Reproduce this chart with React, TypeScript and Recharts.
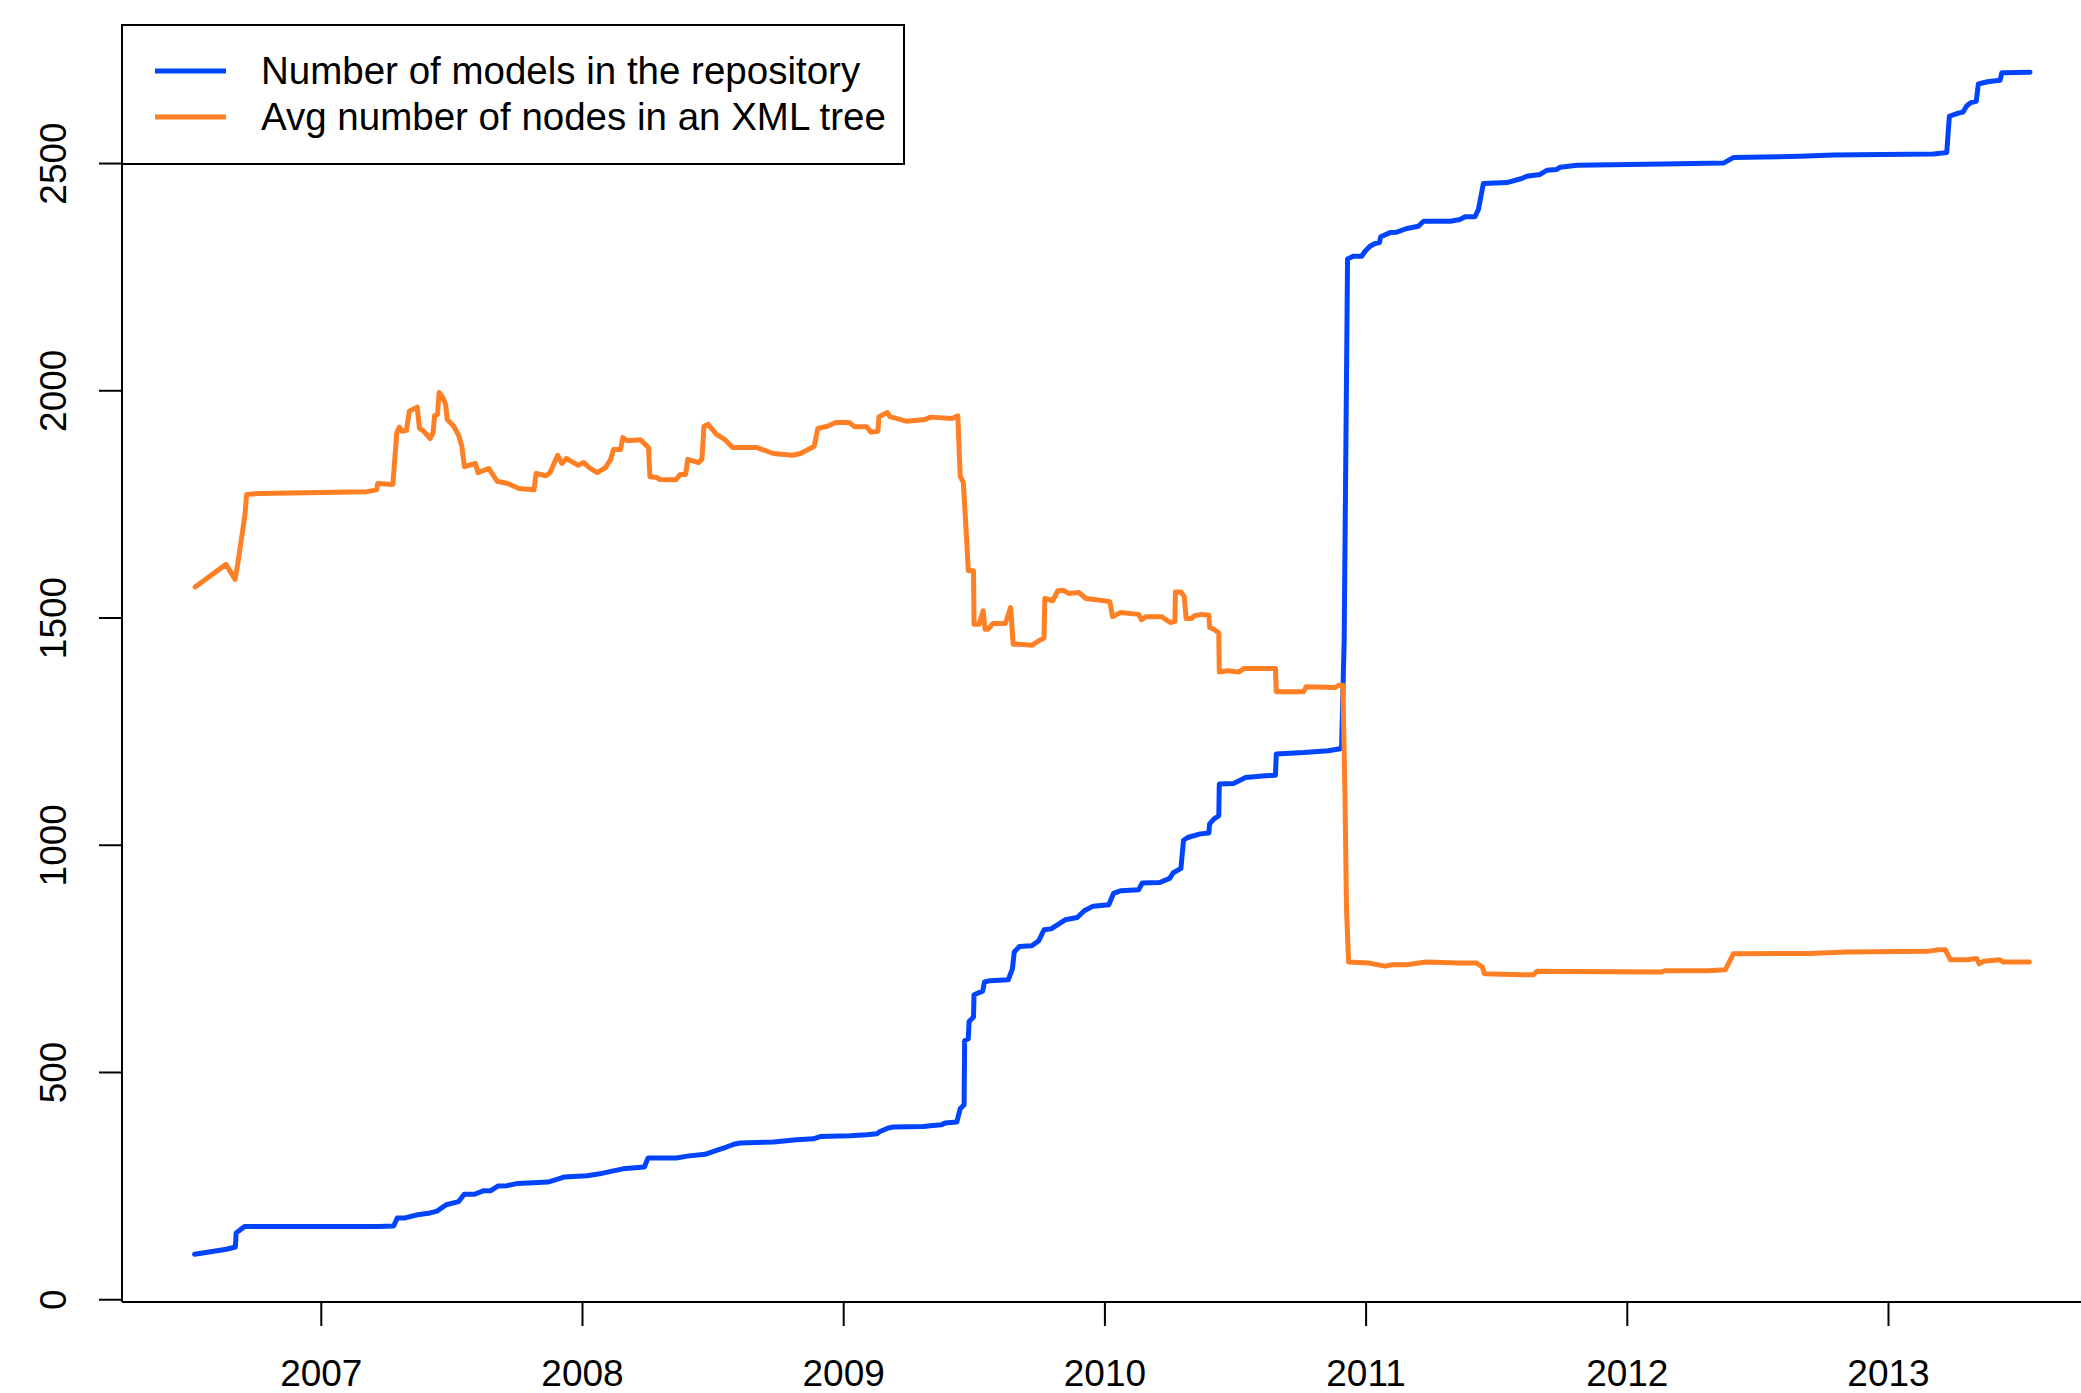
import React from 'react';
import { LineChart, Line, XAxis, YAxis, Legend } from 'recharts';

// Repository size over time (decimal years)
const modelYears = [
  2006.515, 2006.637, 2006.671, 2006.674, 2006.706, 2007.218, 2007.277, 2007.291, 2007.321, 2007.369,
  2007.417, 2007.443, 2007.478, 2007.526, 2007.547, 2007.587, 2007.622, 2007.649, 2007.676, 2007.711,
  2007.752, 2007.868, 2007.902, 2007.929, 2008.018, 2008.066, 2008.113, 2008.155, 2008.237, 2008.251,
  2008.36, 2008.401, 2008.469, 2008.51, 2008.551, 2008.579, 2008.604, 2008.731, 2008.82, 2008.884,
  2008.91, 2009.025, 2009.088, 2009.127, 2009.139, 2009.171, 2009.19, 2009.305, 2009.331, 2009.375,
  2009.388, 2009.433, 2009.446, 2009.461, 2009.463, 2009.477, 2009.48, 2009.497, 2009.499, 2009.532,
  2009.539, 2009.56, 2009.63, 2009.646, 2009.653, 2009.673, 2009.72, 2009.747, 2009.767, 2009.794,
  2009.848, 2009.894, 2009.921, 2009.955, 2010.015, 2010.033, 2010.062, 2010.129, 2010.143, 2010.21,
  2010.248, 2010.261, 2010.291, 2010.301, 2010.317, 2010.365, 2010.398, 2010.401, 2010.418, 2010.436,
  2010.438, 2010.492, 2010.539, 2010.613, 2010.653, 2010.656, 2010.761, 2010.855, 2010.906, 2010.916,
  2010.929, 2010.951, 2010.983, 2010.996, 2011.015, 2011.034, 2011.051, 2011.056, 2011.092, 2011.117,
  2011.156, 2011.2, 2011.22, 2011.322, 2011.36, 2011.379, 2011.417, 2011.43, 2011.449, 2011.539,
  2011.596, 2011.615, 2011.666, 2011.692, 2011.73, 2011.743, 2011.807, 2012.138, 2012.368, 2012.406,
  2012.662, 2012.789, 2013.172, 2013.223, 2013.233, 2013.262, 2013.285, 2013.3, 2013.315, 2013.336,
  2013.344, 2013.379, 2013.427, 2013.434, 2013.542,
];
const modelCounts = [
  100, 111, 116, 147, 161, 161, 162, 180, 180, 187,
  191, 195, 209, 216, 232, 232, 240, 240, 250, 251,
  256, 259, 265, 270, 273, 277, 283, 288, 292, 312,
  312, 316, 320, 328, 336, 342, 345, 347, 352, 354,
  359, 361, 363, 365, 370, 378, 380, 381, 383, 385,
  389, 391, 420, 429, 570, 574, 612, 622, 671, 679,
  699, 702, 704, 728, 765, 777, 779, 790, 814, 816,
  836, 841, 856, 866, 869, 894, 900, 902, 917, 918,
  927, 939, 949, 1011, 1017, 1025, 1027, 1047, 1058, 1065,
  1135, 1136, 1149, 1153, 1154, 1201, 1204, 1208, 1213, 1450,
  2290, 2296, 2296, 2307, 2318, 2324, 2326, 2339, 2348, 2349,
  2357, 2362, 2373, 2373, 2377, 2383, 2383, 2399, 2456, 2458,
  2467, 2472, 2476, 2485, 2487, 2492, 2496, 2499, 2501, 2513,
  2516, 2519, 2521, 2524, 2604, 2610, 2613, 2627, 2634, 2637,
  2675, 2680, 2683, 2700, 2701,
];

// Average XML tree size over time
const nodeYears = [
  2006.517, 2006.635, 2006.67, 2006.681, 2006.708, 2006.714, 2006.76, 2007.175, 2007.212, 2007.216,
  2007.274, 2007.289, 2007.299, 2007.309, 2007.326, 2007.337, 2007.367, 2007.376, 2007.392, 2007.417,
  2007.428, 2007.434, 2007.445, 2007.451, 2007.465, 2007.476, 2007.482, 2007.507, 2007.527, 2007.538,
  2007.548, 2007.59, 2007.6, 2007.641, 2007.673, 2007.714, 2007.756, 2007.814, 2007.822, 2007.86,
  2007.876, 2007.905, 2007.921, 2007.938, 2007.984, 2008.005, 2008.03, 2008.056, 2008.088, 2008.108,
  2008.119, 2008.146, 2008.154, 2008.171, 2008.222, 2008.253, 2008.258, 2008.285, 2008.295, 2008.357,
  2008.374, 2008.395, 2008.403, 2008.444, 2008.457, 2008.465, 2008.481, 2008.513, 2008.544, 2008.575,
  2008.668, 2008.731, 2008.803, 2008.835, 2008.887, 2008.901, 2008.938, 2008.969, 2009.021, 2009.042,
  2009.088, 2009.104, 2009.131, 2009.135, 2009.167, 2009.177, 2009.239, 2009.312, 2009.333, 2009.416,
  2009.437, 2009.446, 2009.458, 2009.471, 2009.477, 2009.497, 2009.499, 2009.518, 2009.534, 2009.541,
  2009.552, 2009.572, 2009.619, 2009.639, 2009.649, 2009.679, 2009.72, 2009.747, 2009.767, 2009.77,
  2009.8, 2009.82, 2009.841, 2009.861, 2009.901, 2009.928, 2009.968, 2010.019, 2010.029, 2010.06,
  2010.129, 2010.14, 2010.156, 2010.217, 2010.25, 2010.268, 2010.27, 2010.291, 2010.304, 2010.311,
  2010.331, 2010.344, 2010.371, 2010.398, 2010.401, 2010.418, 2010.436, 2010.438, 2010.472, 2010.512,
  2010.533, 2010.653, 2010.656, 2010.761, 2010.771, 2010.882, 2010.895, 2010.911, 2010.919, 2010.925,
  2010.933, 2011.009, 2011.073, 2011.101, 2011.155, 2011.229, 2011.357, 2011.422, 2011.445, 2011.453,
  2011.596, 2011.641, 2011.654, 2011.779, 2012.128, 2012.146, 2012.311, 2012.375, 2012.406, 2012.696,
  2012.842, 2013.154, 2013.191, 2013.218, 2013.237, 2013.301, 2013.338, 2013.347, 2013.365, 2013.426,
  2013.438, 2013.539,
];
const nodeCounts = [
  1568, 1618, 1585, 1622, 1728, 1772, 1774, 1778, 1782, 1796,
  1794, 1908, 1920, 1911, 1913, 1955, 1964, 1917, 1911, 1895,
  1908, 1946, 1948, 1996, 1985, 1970, 1937, 1922, 1900, 1878,
  1833, 1840, 1820, 1829, 1801, 1796, 1785, 1782, 1818, 1813,
  1820, 1858, 1840, 1851, 1836, 1842, 1829, 1820, 1831, 1849,
  1871, 1871, 1897, 1890, 1892, 1875, 1811, 1809, 1805, 1804,
  1816, 1816, 1849, 1842, 1849, 1922, 1926, 1904, 1893, 1875,
  1875, 1862, 1858, 1862, 1878, 1917, 1922, 1930, 1930, 1921,
  1921, 1909, 1911, 1943, 1952, 1943, 1933, 1937, 1942, 1939,
  1945, 1812, 1798, 1670, 1604, 1604, 1486, 1486, 1516, 1475,
  1475, 1488, 1488, 1523, 1442, 1442, 1440, 1450, 1456, 1543,
  1538, 1560, 1561, 1554, 1556, 1543, 1540, 1536, 1503, 1512,
  1508, 1496, 1503, 1503, 1490, 1492, 1557, 1557, 1547, 1499,
  1499, 1505, 1508, 1506, 1479, 1475, 1467, 1381, 1384, 1381,
  1389, 1389, 1338, 1338, 1349, 1347, 1352, 1352, 1116, 860,
  743, 741, 734, 737, 737, 743, 741, 741, 732, 717,
  715, 715, 723, 722, 721, 724, 724, 726, 761, 762,
  765, 767, 770, 770, 748, 748, 751, 739, 745, 748,
  743, 743,
];

const seriesNames = ['Number of models in the repository', 'Avg number of nodes in an XML tree'];
const yearTicks = [2007, 2008, 2009, 2010, 2011, 2012, 2013];
const valueTicks = [0, 500, 1000, 1500, 2000, 2500];

const modelData = modelYears.map((t, i) => ({ t, v: modelCounts[i] }));
const nodeData = nodeYears.map((t, i) => ({ t, v: nodeCounts[i] }));

const FONT = '"Liberation Sans", Arial, Helvetica, sans-serif';
const BLUE = '#0044ff';
const ORANGE = '#ff7f24';

const XTick = ({ x, y, payload }: any) => (
  <text x={x} y={y + 58} textAnchor="middle" fontFamily={FONT} fontSize={37} fill="#000">
    {payload.value}
  </text>
);

const YTick = ({ x, y, payload }: any) => (
  <text
    x={x - 31}
    y={y}
    transform={`rotate(-90, ${x - 31}, ${y})`}
    textAnchor="middle"
    fontFamily={FONT}
    fontSize={37}
    fill="#000"
  >
    {payload.value}
  </text>
);

// legend keeps the series in plotting order, inside a framed box
const LegendBox = ({ payload }: any) => {
  const items = [...(payload || [])].sort(
    (a: any, b: any) => seriesNames.indexOf(a.value) - seriesNames.indexOf(b.value),
  );
  return (
    <svg width={784} height={141} style={{ display: 'block' }}>
      <rect x={1} y={1} width={782} height={139} fill="#fff" stroke="#000" strokeWidth={2} />
      {items.map((p: any, i: number) => (
        <g key={p.value}>
          <line x1={34} x2={105} y1={47 + i * 46} y2={47 + i * 46} stroke={p.color} strokeWidth={5} />
          <text x={140} y={60 + i * 46} fontFamily={FONT} fontSize={38.5} fill="#000">
            {p.value}
          </text>
        </g>
      ))}
    </svg>
  );
};

export default function App() {
  return (
    <div style={{ position: 'absolute', left: 0, top: 0, background: '#fff' }}>
      <LineChart width={2081} height={1393} margin={{ top: 24, right: 0, bottom: 0, left: 0 }}>
        <XAxis
          dataKey="t"
          type="number"
          domain={[2006.237, 2013.737]}
          allowDataOverflow
          ticks={yearTicks}
          height={91}
          tickSize={24}
          tick={XTick}
          axisLine={{ stroke: '#000', strokeWidth: 2 }}
          tickLine={{ stroke: '#000', strokeWidth: 2 }}
        />
        <XAxis
          xAxisId="frame"
          dataKey="t"
          type="number"
          orientation="top"
          domain={[2006.237, 2013.737]}
          allowDataOverflow
          height={0}
          tick={false}
          tickLine={false}
          axisLine={{ stroke: '#000', strokeWidth: 2 }}
        />
        <YAxis
          dataKey="v"
          type="number"
          domain={[-5, 2807]}
          allowDataOverflow
          ticks={valueTicks}
          width={122}
          tickSize={23}
          tick={YTick}
          axisLine={{ stroke: '#000', strokeWidth: 2 }}
          tickLine={{ stroke: '#000', strokeWidth: 2 }}
        />
        <Line
          data={modelData}
          dataKey="v"
          name={seriesNames[0]}
          type="linear"
          stroke={BLUE}
          strokeWidth={5}
          strokeLinejoin="round"
          strokeLinecap="round"
          dot={false}
          isAnimationActive={false}
        />
        <Line
          data={nodeData}
          dataKey="v"
          name={seriesNames[1]}
          type="linear"
          stroke={ORANGE}
          strokeWidth={5}
          strokeLinejoin="round"
          strokeLinecap="round"
          dot={false}
          isAnimationActive={false}
        />
        <Legend
          layout="horizontal"
          verticalAlign="middle"
          align="center"
          wrapperStyle={{ left: 121, top: 24, width: 784, height: 141 }}
          content={LegendBox}
        />
      </LineChart>
    </div>
  );
}
